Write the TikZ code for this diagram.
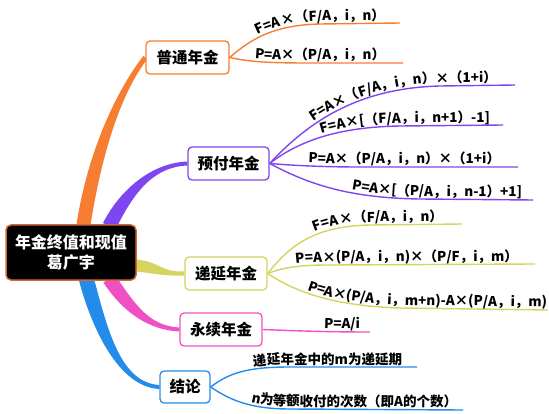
\documentclass[tikz,border=0pt]{standalone}
\usepackage{fontspec}
\setmainfont{Noto Sans CJK SC}
\usetikzlibrary{calc,decorations.text,backgrounds}
\definecolor{cOr}{RGB}{247,125,50}
\definecolor{cPu}{RGB}{125,70,240}
\definecolor{cYe}{RGB}{212,212,95}
\definecolor{cPi}{RGB}{240,80,195}
\definecolor{cBl}{RGB}{35,140,235}
\definecolor{cRootB}{RGB}{210,105,50}
\newcommand\leaffont{\fontsize{13.5}{16}\selectfont\bfseries}
% tapered branch: color, start, c1, c2, end, start half width, end half width
\newcommand\tbranch[7]{%
  \path ($(#2)!#6!90:(#3)$) coordinate (tbSL)
        ($(#2)!#6!-90:(#3)$) coordinate (tbSR)
        ($(#5)!#7!-90:(#4)$) coordinate (tbEL)
        ($(#5)!#7!90:(#4)$) coordinate (tbER);
  \fill[#1] (tbSL) .. controls ($(#3)+(tbSL)-(#2)$) and ($(#4)+(tbEL)-(#5)$) .. (tbEL)
     -- (tbER) .. controls ($(#4)+(tbER)-(#5)$) and ($(#3)+(tbSR)-(#2)$) .. (tbSR) -- cycle;
}
\begin{document}
\begin{tikzpicture}[x=1pt,y=-1pt,
  box/.style={draw, line width=1.3pt, rounded corners=4pt, fill=white,
    minimum height=33pt, inner sep=0pt, align=center,
    font=\fontsize{15.5}{18}\selectfont\bfseries},
  rootbox/.style={draw=cRootB, fill=black, text=white, line width=1.5pt,
    rounded corners=5pt, minimum width=130pt, minimum height=55pt, inner sep=0pt,
    align=center, font=\fontsize{16}{20}\selectfont\bfseries},
  leaf/.style={line width=1.4pt},
  ltext/.style 2 args={decorate, decoration={text along path, raise=3pt,
    text color=black, text align={right, right indent=#1}, text={|\leaffont|#2}}}]
\useasboundingbox (0,0) rectangle (549,414);

\node[rootbox] (root) at (71,252.5) {年金终值和现值\\葛广宇};
\node[box, draw=cOr, minimum width=83pt] (p1) at (187.5,57.5) {普通年金};
\node[box, draw=cPu, minimum width=81pt] (p2) at (228.5,163.5) {预付年金};
\node[box, draw=cYe, minimum width=82pt] (p3) at (226,273.5) {递延年金};
\node[box, draw=cPi, minimum width=82pt] (p4) at (221,329.5) {永续年金};
\node[box, draw=cBl, minimum width=50pt, minimum height=32pt] (p5) at (185,387) {结论};

\begin{pgfonlayer}{background}
\coordinate (bo) at ($(root.north west)+(78,2)$);
\coordinate (bp) at ($(root.north west)+(104,2)$);
\coordinate (by) at ($(root.north east)+(-2,41)$);
\coordinate (bk) at ($(root.south west)+(104,-2)$);
\coordinate (bb) at ($(root.south west)+(81,-2)$);
\tbranch{cOr}{bo}{95,150}{120,90}{p1.west}{7pt}{2.5pt}
\tbranch{cPu}{bp}{125,195}{150,165}{p2.west}{7pt}{2pt}
\tbranch{cYe}{by}{160,268}{160,274}{p3.west}{6pt}{2pt}
\tbranch{cPi}{bk}{130,310}{150,328}{p4.west}{7pt}{2pt}
\tbranch{cBl}{bb}{100,330}{120,385}{p5.west}{7.5pt}{2pt}
\end{pgfonlayer}

% leaves
\coordinate (e11) at (400,23);
\coordinate (e12) at (403,63);
\draw[leaf,cOr,postaction={ltext={15pt}{F=A×（F/A，i，n）}}] (p1.east) .. controls (252,38) and (275,25) .. (320,24) -- (e11);
\draw[leaf,cOr,postaction={ltext={18pt}{P=A×（P/A，i，n）}}] (p1.east) .. controls (250,62) and (270,63) .. (310,63) -- (e12);

\coordinate (e21) at (515,85);
\coordinate (e22) at (503,125);
\coordinate (e23) at (518,167);
\coordinate (e24) at (533,200);
\draw[leaf,cPu,postaction={ltext={18pt}{F=A×（F/A，i，n）×（1+i）}}] (p2.east) .. controls (310,120) and (360,88) .. (440,86) -- (e21);
\draw[leaf,cPu,postaction={ltext={13pt}{F=A×[（F/A，i，n+1）-1]}}] (p2.east) .. controls (300,140) and (340,127) .. (400,126) -- (e22);
\draw[leaf,cPu,postaction={ltext={18pt}{P=A×（P/A，i，n）×（1+i）}}] (p2.east) .. controls (300,166) and (330,167) .. (360,167) -- (e23);
\draw[leaf,cPu,postaction={ltext={11pt}{P=A×[（P/A，i，n-1）+1]}}] (p2.east) .. controls (310,185) and (350,198) .. (420,199) -- (e24);

\coordinate (e31) at (462,224);
\coordinate (e32) at (535,264);
\coordinate (e33) at (548,310);
\draw[leaf,cYe,postaction={ltext={19pt}{F=A×（F/A，i，n）}}] (p3.east) .. controls (290,245) and (315,226) .. (370,225) -- (e31);
\draw[leaf,cYe,postaction={ltext={17pt}{P=A×(P/A，i，n)×（P/F，i，m）}}] (p3.east) .. controls (285,267) and (300,265) .. (330,265) -- (e32);
\draw[leaf,cYe,postaction={ltext={1pt}{P=A×(P/A，i，m+n)-A×(P/A，i，m)}}] (p3.east) .. controls (300,295) and (340,306) .. (400,308) -- (e33);

\coordinate (e41) at (370,332);
\draw[leaf,cPi,postaction={ltext={10pt}{P=A/i}}] (p4.east) .. controls (300,331) and (330,332) .. (e41);

\coordinate (e51) at (417,367);
\coordinate (e52) at (463,410);
\draw[leaf,cBl,postaction={ltext={15pt}{递延年金中的m为递延期}}] (p5.east) .. controls (230,372) and (250,367) .. (290,367) -- (e51);
\draw[leaf,cBl,postaction={ltext={6pt}{n为等额收付的次数（即A的个数）}}] (p5.east) .. controls (230,400) and (250,409) .. (290,409) -- (e52);
\end{tikzpicture}
\end{document}
